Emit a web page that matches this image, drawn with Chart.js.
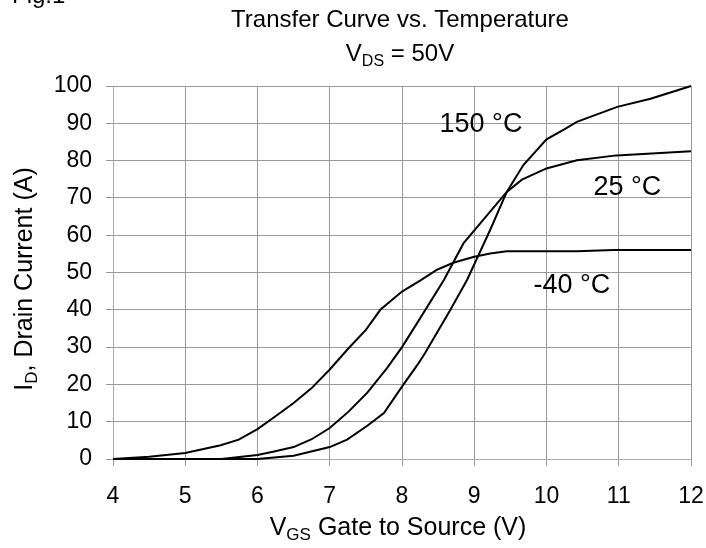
<!DOCTYPE html>
<html>
<head>
<meta charset="utf-8">
<script src="https://cdn.jsdelivr.net/npm/chart.js@4.4.1/dist/chart.umd.min.js"></script>
<style>
  html, body { margin: 0; padding: 0; background: #fff; }
  #wrap { width: 706px; height: 548px; position: relative; }
</style>
</head>
<body>
<div id="wrap"><canvas id="chart"></canvas></div>
<script>
// Transfer curves, ID (A) vs VGS (V), VDS = 50V
const vgsCold = [4, 4.5, 5, 5.49, 5.74, 6.0, 6.23, 6.5, 6.75, 7.0, 7.26, 7.5, 7.7, 8.0, 8.25, 8.48, 8.71, 9.0, 9.22, 9.45, 10.42, 10.93, 12];
const idCold  = [0, 0.6, 1.6, 3.7, 5.2, 8.0, 11.2, 15.0, 19.0, 24.0, 29.7, 34.6, 40.0, 44.9, 47.8, 50.7, 52.6, 54.2, 55.1, 55.7, 55.7, 56.0, 56.0];

const vgsRoom = [4, 5.5, 6.0, 6.23, 6.5, 6.75, 7.0, 7.26, 7.52, 7.79, 8.0, 8.25, 8.58, 8.85, 9.45, 9.66, 10.0, 10.42, 10.97, 12];
const idRoom  = [0, 0, 1.1, 2.0, 3.2, 5.3, 8.3, 12.7, 17.8, 24.3, 30.0, 37.7, 48.0, 57.8, 71.6, 74.9, 77.9, 80.1, 81.4, 82.5];

const vgsHot = [4, 6.0, 6.5, 7.0, 7.24, 7.52, 7.75, 8.0, 8.23, 8.32, 8.67, 8.9, 9.22, 9.45, 9.68, 10.0, 10.24, 10.42, 10.98, 11.44, 12];
const idHot  = [0, 0, 0.9, 3.2, 5.2, 8.9, 12.3, 19.4, 25.7, 28.4, 40.0, 48.0, 61.4, 71.6, 78.8, 85.7, 88.3, 90.4, 94.4, 96.6, 100];

// temperature tags, anchored in data units (left edge, baseline)
const tagText = ['150 °C', '25 °C', '-40 °C'];
const tagVgs  = [8.52, 10.65, 9.82];
const tagId   = [87.6, 70.8, 44.5];

const FONT = '"Liberation Sans", Arial, sans-serif';

function toPoints(xs, ys) {
    return xs.map((x, i) => ({ x: x, y: ys[i] }));
}

function curve(label, xs, ys) {
    return {
        label: label,
        data: toPoints(xs, ys),
        borderColor: '#000',
        borderWidth: 2,
        pointRadius: 0,
        tension: 0,
        fill: false,
        clip: false
    };
}

// draws text with a subscript part: [main, sub, rest]
function drawSubText(ctx, parts, x, y, size, align) {
    const big = size + 'px ' + FONT;
    const small = Math.round(size * 0.68) + 'px ' + FONT;
    ctx.font = big;
    const w0 = ctx.measureText(parts[0]).width;
    const w2 = ctx.measureText(parts[2]).width;
    ctx.font = small;
    const w1 = ctx.measureText(parts[1]).width;
    const total = w0 + w1 + w2;
    let sx = align === 'center' ? x - total / 2 : x;
    ctx.textAlign = 'left';
    ctx.textBaseline = 'alphabetic';
    ctx.font = big;
    ctx.fillText(parts[0], sx, y);
    ctx.font = small;
    ctx.fillText(parts[1], sx + w0, y + size * 0.2);
    ctx.font = big;
    ctx.fillText(parts[2], sx + w0 + w1, y);
}

const textPlugin = {
    id: 'texts',
    afterDraw(chart) {
        const ctx = chart.ctx;
        const xs = chart.scales.x, ys = chart.scales.y;
        ctx.save();
        ctx.fillStyle = '#000';

        ctx.font = '24px ' + FONT;
        ctx.textAlign = 'left';
        ctx.textBaseline = 'alphabetic';
        ctx.fillText('Fig.1', 12, 3);

        ctx.textAlign = 'center';
        ctx.fillText('Transfer Curve vs. Temperature', 400, 27);
        drawSubText(ctx, ['V', 'DS', ' = 50V'], 400, 61, 24, 'center');

        // axis titles
        drawSubText(ctx, ['V', 'GS', ' Gate to Source (V)'], 398, 535, 25, 'center');
        ctx.save();
        ctx.translate(32, 279);
        ctx.rotate(-Math.PI / 2);
        drawSubText(ctx, ['I', 'D', ', Drain Current (A)'], 0, 0, 25, 'center');
        ctx.restore();

        // curve tags
        ctx.font = '27px ' + FONT;
        ctx.textAlign = 'left';
        ctx.textBaseline = 'alphabetic';
        tagText.forEach((t, i) => {
            ctx.fillText(t, xs.getPixelForValue(tagVgs[i]), ys.getPixelForValue(tagId[i]));
        });
        ctx.restore();
    }
};

new Chart(document.getElementById('chart'), {
    type: 'line',
    data: {
        datasets: [
            curve('-40 °C', vgsCold, idCold),
            curve('25 °C', vgsRoom, idRoom),
            curve('150 °C', vgsHot, idHot)
        ]
    },
    options: {
        responsive: true,
        maintainAspectRatio: false,
        animation: false,
        devicePixelRatio: 1,
        layout: { padding: { top: 86, right: 15, left: 0, bottom: 0 } },
        plugins: {
            legend: { display: false },
            title: { display: false },
            tooltip: { enabled: false }
        },
        scales: {
            x: {
                type: 'linear',
                min: 4,
                max: 12,
                afterFit: s => {
                    s.height = 89;
                    s.paddingLeft = 0;
                    s.paddingRight = 0;
                },
                grid: { color: '#999', tickLength: 7, drawTicks: true },
                border: { color: '#aaa', width: 1 },
                ticks: {
                    stepSize: 1,
                    padding: 17,
                    color: '#000',
                    font: { family: FONT, size: 23 }
                }
            },
            y: {
                min: 0,
                max: 100,
                afterFit: s => {
                    s.width = 113;
                    s.paddingTop = 0;
                    s.paddingBottom = 0;
                },
                grid: { color: '#999', tickLength: 7, drawTicks: true },
                border: { color: '#aaa', width: 1 },
                ticks: {
                    stepSize: 10,
                    padding: 14,
                    color: '#000',
                    font: { family: FONT, size: 23 }
                }
            }
        }
    },
    plugins: [textPlugin]
});
</script>
</body>
</html>
